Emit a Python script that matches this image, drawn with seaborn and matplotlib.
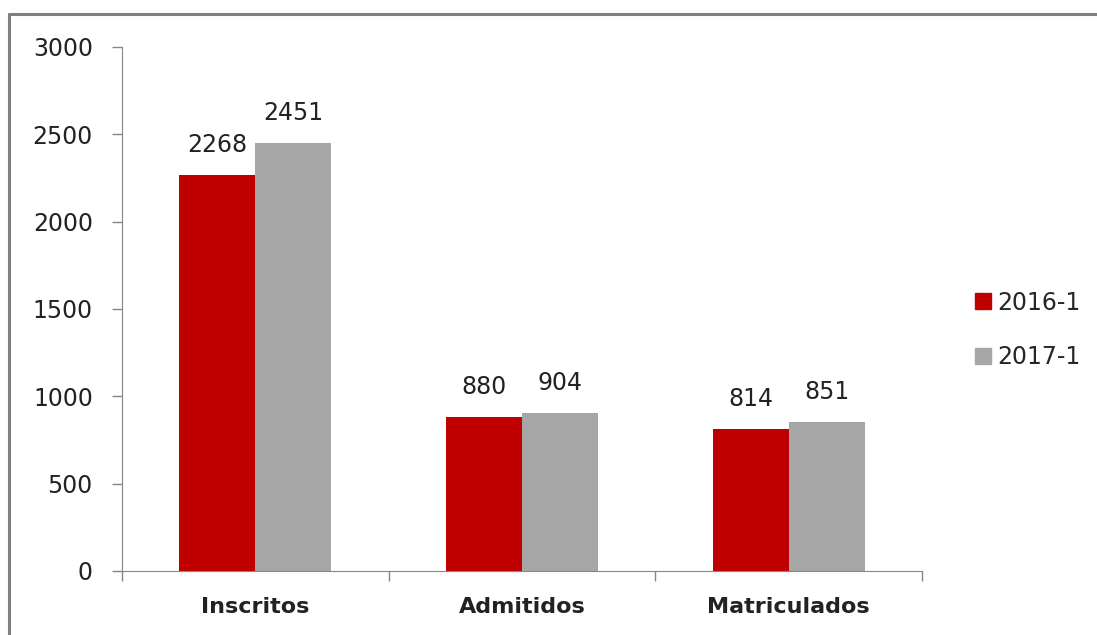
import pandas as pd
import matplotlib.pyplot as plt
import seaborn as sb
from matplotlib.lines import Line2D
from matplotlib.ticker import FixedLocator

# datos del grafico
categorias = ["Inscritos", "Admitidos", "Matriculados"]
periodos = ["2016-1", "2017-1"]
valores_2016 = [2268, 880, 814]
valores_2017 = [2451, 904, 851]
colores = ["#C00000", "#A6A6A6"]

df_Datos = pd.DataFrame({
    "categoria": categorias * 2,
    "periodo": [periodos[0]] * 3 + [periodos[1]] * 3,
    "valor": valores_2016 + valores_2017,
})

sb.set_style("white")
plt.rcParams['font.family'] = ['DejaVu Sans']

fig = plt.figure(figsize=(10.97, 6.35), dpi=100)
ax = fig.add_axes([0.1112, 0.1008, 0.7293, 0.8252])

sb.barplot(data=df_Datos, x="categoria", y="valor", hue="periodo",
           palette=colores, width=0.57, saturation=1, linewidth=0, ax=ax)

for cont in ax.containers:
    ax.bar_label(cont, padding=13, fontsize=17, color="#222222")

ax.set_ylim(0, 3000)
ax.set_xlim(-0.5, 2.5)
ax.set_yticks(range(0, 3001, 500))
ax.set_xlabel("")
ax.set_ylabel("")

# estilo excel: marcas entre categorias
ax.tick_params(axis="x", which="major", length=0, pad=19, labelsize=16)
ax.xaxis.set_minor_locator(FixedLocator([-0.5, 0.5, 1.5, 2.5]))
ax.tick_params(axis="x", which="minor", bottom=True, length=7, width=1, color="#868686", direction="out")
ax.tick_params(axis="y", left=True, length=7, width=1, color="#868686", direction="out",
               pad=14, labelsize=17, labelcolor="#222222")
for lbl in ax.get_xticklabels():
    lbl.set_fontweight("bold")
    lbl.set_color("#222222")

sb.despine(ax=ax)
ax.spines["left"].set_color("#868686")
ax.spines["bottom"].set_color("#868686")

# leyenda
handles = [Line2D([], [], marker="s", linestyle="", markersize=11, color=c) for c in colores]
ax.legend(handles, periodos, loc="center left", bbox_to_anchor=(1.035, 0.46),
          frameon=False, fontsize=17, handletextpad=0.1, handlelength=1.0, labelspacing=1.3)

# marco del grafico
fig.add_artist(Line2D([9 / 1097, 1], [1 - 14 / 635, 1 - 14 / 635], color="#808080", lw=2.2))
fig.add_artist(Line2D([9 / 1097, 9 / 1097], [0, 1 - 14 / 635], color="#808080", lw=2.2))

fig.savefig("out.png", dpi=100)
